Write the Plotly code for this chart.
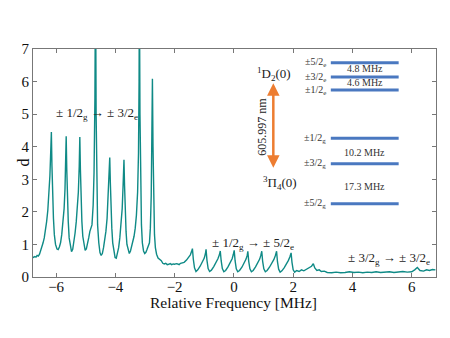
import plotly.graph_objects as go

# ---- spectrum ----
freq = [
    -6.80, -6.76, -6.72, -6.68, -6.64, -6.60, -6.56, -6.52, -6.48, -6.44, -6.40, -6.36, -6.32, -6.28, -6.24, -6.21, -6.18, -6.16,
    -6.14, -6.12, -6.09, -6.06, -6.02, -5.97, -5.93, -5.89, -5.85, -5.81, -5.77, -5.73, -5.70, -5.68, -5.66,
    -5.64, -5.62, -5.59, -5.56, -5.52, -5.48, -5.44, -5.40, -5.36, -5.32, -5.28, -5.25, -5.22, -5.20,
    -5.18, -5.16, -5.13, -5.10, -5.06, -5.02, -4.98, -4.94, -4.90, -4.86, -4.82, -4.79, -4.75, -4.72, -4.69, -4.67,
    -4.65, -4.63, -4.60, -4.56, -4.52, -4.48, -4.44, -4.40, -4.36, -4.32, -4.28, -4.25, -4.22, -4.19,
    -4.17, -4.15, -4.12, -4.09, -4.05, -4.01, -3.97, -3.93, -3.89, -3.85, -3.81, -3.77, -3.74, -3.71,
    -3.69, -3.67, -3.64, -3.61, -3.57, -3.53, -3.49, -3.45, -3.41, -3.37, -3.33, -3.29, -3.25, -3.22, -3.20, -3.19,
    -3.17, -3.15, -3.12, -3.09, -3.05, -3.01, -2.97, -2.93, -2.89, -2.85, -2.82, -2.79, -2.77, -2.75,
    -2.73, -2.71, -2.68, -2.65, -2.61, -2.56, -2.50, -2.45, -2.40, -2.35, -2.30, -2.25, -2.20, -2.15, -2.10,
    -2.05, -2.00, -1.95, -1.90, -1.85, -1.80, -1.75, -1.68, -1.60, -1.53, -1.47, -1.43, -1.40,
    -1.37, -1.33, -1.28, -1.22, -1.14, -1.06, -1.00, -0.96, -0.94,
    -0.91, -0.87, -0.82, -0.76, -0.68, -0.60, -0.54, -0.49, -0.46,
    -0.43, -0.39, -0.34, -0.28, -0.20, -0.12, -0.06, -0.02, 0.01,
    0.04, 0.08, 0.13, 0.19, 0.27, 0.35, 0.41, 0.45, 0.47,
    0.50, 0.54, 0.59, 0.65, 0.73, 0.81, 0.87, 0.91, 0.94,
    0.97, 1.01, 1.06, 1.12, 1.20, 1.28, 1.35, 1.40, 1.44,
    1.47, 1.51, 1.56, 1.62, 1.70, 1.78, 1.84, 1.89, 1.93,
    1.96, 2.00, 2.05, 2.12, 2.20, 2.28, 2.36, 2.45, 2.55, 2.62, 2.68, 2.73, 2.80, 2.88, 2.95,
    3.05, 3.15, 3.30, 3.45, 3.60, 3.75, 3.90, 4.05, 4.20, 4.35, 4.50, 4.65, 4.80, 4.95, 5.10,
    5.25, 5.40, 5.55, 5.70, 5.85, 6.00, 6.10, 6.19, 6.28, 6.40, 6.50, 6.60, 6.70, 6.80,
]
dval = [
    0.62, 0.60, 0.63, 0.61, 0.66, 0.64, 0.70, 0.80, 0.92, 1.05, 1.20, 1.42, 1.70, 2.05, 2.55, 3.10, 3.90, 4.45,
    3.40, 2.50, 1.80, 1.30, 1.00, 0.86, 0.84, 0.92, 1.05, 1.30, 1.65, 2.10, 2.70, 3.50, 4.32,
    3.30, 2.40, 1.70, 1.20, 0.90, 0.78, 0.85, 1.05, 1.35, 1.70, 2.10, 2.60, 3.40, 4.30,
    3.30, 2.40, 1.70, 1.25, 0.95, 0.82, 0.86, 1.00, 1.20, 1.40, 1.55, 1.60, 2.20, 3.20, 5.50, 9.50,
    5.00, 2.80, 1.60, 1.05, 0.75, 0.66, 0.72, 0.90, 1.10, 1.40, 1.80, 2.30, 2.90, 3.67,
    2.90, 2.10, 1.50, 1.05, 0.75, 0.60, 0.58, 0.70, 0.90, 1.20, 1.60, 2.10, 2.80, 3.60,
    2.80, 2.00, 1.40, 1.00, 0.80, 0.72, 0.80, 0.95, 1.10, 1.25, 1.50, 1.90, 2.60, 3.80, 6.00, 9.00,
    5.00, 2.80, 1.60, 1.05, 0.80, 0.72, 0.76, 0.85, 0.95, 1.05, 1.50, 2.50, 4.30, 6.09,
    4.00, 2.20, 1.30, 0.90, 0.70, 0.58, 0.55, 0.50, 0.42, 0.40, 0.42, 0.38, 0.39, 0.41, 0.38,
    0.40, 0.39, 0.41, 0.40, 0.38, 0.42, 0.43, 0.45, 0.52, 0.60, 0.68, 0.78, 0.87,
    0.55, 0.28, 0.17, 0.22, 0.33, 0.46, 0.58, 0.72, 0.85,
    0.52, 0.26, 0.17, 0.21, 0.32, 0.45, 0.56, 0.68, 0.80,
    0.50, 0.26, 0.16, 0.20, 0.31, 0.44, 0.56, 0.69, 0.82,
    0.50, 0.25, 0.16, 0.20, 0.30, 0.43, 0.55, 0.67, 0.79,
    0.48, 0.25, 0.16, 0.20, 0.31, 0.44, 0.55, 0.67, 0.79,
    0.48, 0.25, 0.16, 0.20, 0.30, 0.42, 0.54, 0.66, 0.79,
    0.47, 0.24, 0.15, 0.19, 0.29, 0.40, 0.51, 0.62, 0.74,
    0.45, 0.22, 0.15, 0.20, 0.17, 0.22, 0.19, 0.24, 0.28, 0.33, 0.41, 0.28, 0.20, 0.22, 0.17,
    0.18, 0.14, 0.13, 0.15, 0.13, 0.14, 0.16, 0.14, 0.15, 0.13, 0.15, 0.14, 0.16, 0.14, 0.15,
    0.16, 0.14, 0.15, 0.17, 0.15, 0.16, 0.22, 0.29, 0.20, 0.18, 0.22, 0.20, 0.23, 0.22,
]

# ---- level diagram ----
level_labels = ["±5/2<sub>e</sub>", "±3/2<sub>e</sub>", "±1/2<sub>e</sub>",
                "±1/2<sub>g</sub>", "±3/2<sub>g</sub>", "±5/2<sub>g</sub>"]
level_y = [6.58, 6.14, 5.74, 4.26, 3.48, 2.25]
level_x = [3.27, 5.56]
split_labels = ["4.8 MHz", "4.6 MHz", "10.2 MHz", "17.3 MHz"]
split_y = [6.40, 5.97, 3.83, 2.78]

xticks = [-6, -4, -2, 0, 2, 4, 6]
yticks = [0, 1, 2, 3, 4, 5, 6, 7]

FONT = "Liberation Serif, Times New Roman, DejaVu Serif, serif"
fig = go.Figure()
fig.add_trace(go.Scatter(x=freq, y=dval, mode="lines",
                         line=dict(color="#0f8a86", width=1.4),
                         showlegend=False, hoverinfo="skip"))

for yv in level_y:
    fig.add_shape(type="line", xref="x", yref="y", x0=level_x[0], x1=level_x[1],
                  y0=yv, y1=yv, line=dict(color="#4a78c0", width=3))

annots = []
for lab, yv in zip(level_labels, level_y):
    annots.append(dict(x=level_x[0] - 0.08, y=yv, text=lab, showarrow=False,
                       xanchor="right", yanchor="middle",
                       font=dict(family=FONT, size=10, color="#333")))
for lab, yv in zip(split_labels, split_y):
    annots.append(dict(x=(level_x[0] + level_x[1]) / 2, y=yv, text=lab, showarrow=False,
                       xanchor="center", yanchor="middle",
                       font=dict(family=FONT, size=10, color="#333")))

# arrow
annots.append(dict(x=1.33, y=5.95, ax=1.33, ay=3.31, xref="x", yref="y", axref="x", ayref="y",
                   text="", showarrow=True, arrowhead=2, startarrowhead=2, arrowside="end+start",
                   arrowwidth=2.5, arrowsize=1, startarrowsize=1, arrowcolor="#ed7d31"))
annots.append(dict(x=1.35, y=6.22, text="<sup>1</sup>D<sub>2</sub>(0)", showarrow=False,
                   font=dict(family=FONT, size=13, color="#222")))
annots.append(dict(x=0.92, y=4.62, text="605.997 nm", showarrow=False, textangle=-90,
                   font=dict(family=FONT, size=12, color="#222")))
annots.append(dict(x=1.55, y=2.89, text="<sup>3</sup>Π<sub>4</sub>(0)", showarrow=False,
                   font=dict(family=FONT, size=13, color="#222")))

annots.append(dict(x=-6.07, y=5.03, text="± 1/2<sub>g</sub> → ± 3/2<sub>e</sub>", showarrow=False,
                   xanchor="left", font=dict(family=FONT, size=13, color="#222")))
annots.append(dict(x=-0.80, y=1.04, text="± 1/2<sub>g</sub> → ± 5/2<sub>e</sub>", showarrow=False,
                   xanchor="left", font=dict(family=FONT, size=13, color="#222")))
annots.append(dict(x=3.78, y=0.56, text="± 3/2<sub>g</sub> → ± 3/2<sub>e</sub>", showarrow=False,
                   xanchor="left", font=dict(family=FONT, size=13, color="#222")))

# axis titles placed as paper annotations
pw, ph = 450 - 33 - 14, 338 - 49 - 61
annots.append(dict(x=(12 - 33) / pw, y=(338 - 61 - 163) / ph, xref="paper", yref="paper",
                   text="d", showarrow=False,
                   font=dict(family=FONT, size=16, color="#111"), textangle=-90))
annots.append(dict(x=(233 - 33) / pw, y=(338 - 61 - 302) / ph, xref="paper", yref="paper",
                   text="Relative Frequency [MHz]", showarrow=False, yanchor="middle",
                   font=dict(family=FONT, size=15.5, color="#111")))

fig.update_layout(
    width=450, height=338,
    margin=dict(l=33, r=14, t=49, b=61, autoexpand=False),
    paper_bgcolor="white", plot_bgcolor="white",
    font=dict(family=FONT, size=15, color="#111"),
    annotations=annots,
    xaxis=dict(range=[-6.78, 6.82], tickvals=xticks, ticks="inside", ticklen=4,
               showline=True, linecolor="#777", linewidth=1, mirror="ticks",
               showgrid=False, zeroline=False, tickcolor="#777", automargin=False,
               ticklabelstandoff=-4,
               tickfont=dict(family=FONT, size=15)),
    yaxis=dict(range=[0, 7], tickvals=yticks, ticks="inside", ticklen=4,
               showline=True, linecolor="#777", linewidth=1, mirror="ticks",
               showgrid=False, zeroline=False, tickcolor="#777", automargin=False,
               tickfont=dict(family=FONT, size=15)),
)
fig.write_html("out.html", config={"displayModeBar": False},
               post_script="document.body.style.margin='0';document.body.style.overflow='hidden';")
